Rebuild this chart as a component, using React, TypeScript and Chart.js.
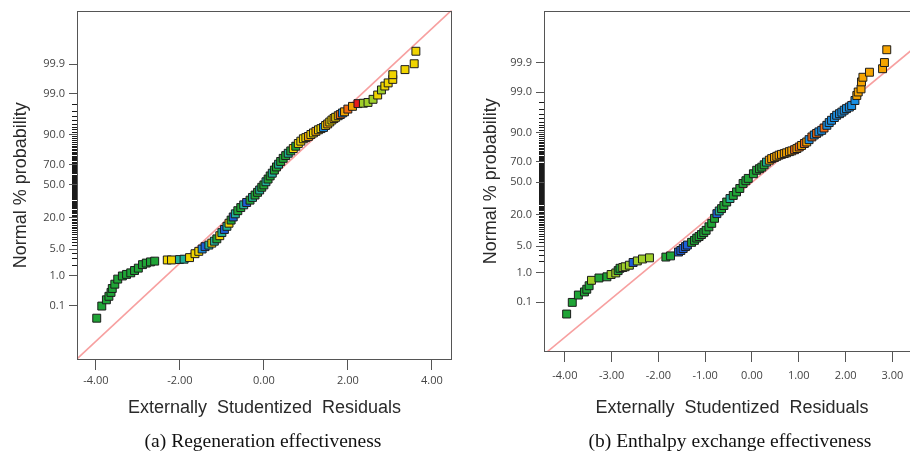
import React, { useEffect, useRef } from "react";
import { Chart, registerables } from "chart.js";

Chart.register(...registerables);

// ---------------- data ----------------
// (a) Regeneration effectiveness: externally studentized residual vs normal score
const regenResidual = [
  -3.98, -3.86, -3.75, -3.69, -3.64, -3.61, -3.55, -3.48, -3.37, -3.27, -3.17, -3.08, -2.99, -2.89, -2.8, -2.7, -2.6,
  -2.3, -2.2, -2.01, -1.9, -1.77, -1.64, -1.55, -1.47, -1.4,
  -1.31, -1.24, -1.18, -1.12, -1.05, -1.0, -0.94, -0.88, -0.83, -0.78, -0.73, -0.68, -0.62, -0.55, -0.48, -0.41, -0.33, -0.27, -0.21, -0.15, -0.1, -0.05,
  0.0, 0.05, 0.1, 0.15, 0.2, 0.25, 0.3, 0.35, 0.4,
  0.46, 0.52, 0.58, 0.64, 0.7, 0.76, 0.82, 0.88, 0.94, 1.0,
  1.06, 1.12, 1.18, 1.24, 1.3, 1.36, 1.42, 1.47, 1.52, 1.57, 1.62, 1.67, 1.71, 1.77, 1.82, 1.87, 1.92,
  2.0, 2.11, 2.24,
  2.37, 2.48, 2.6, 2.71, 2.8, 2.88, 2.96, 3.07, 3.07, 3.36, 3.58, 3.62,
];
const regenNormalScore = [
  -3.41, -3.1, -2.94, -2.85, -2.75, -2.65, -2.54, -2.41, -2.33, -2.29, -2.25, -2.19, -2.13, -2.04, -2.0, -1.97, -1.95,
  -1.92, -1.92, -1.91, -1.9, -1.86, -1.76, -1.7, -1.64, -1.58,
  -1.54, -1.49, -1.44, -1.38, -1.3, -1.22, -1.14, -1.06, -0.98, -0.9, -0.82, -0.74, -0.66, -0.58, -0.51, -0.45, -0.39, -0.32, -0.26, -0.19, -0.13, -0.06,
  0.0, 0.08, 0.15, 0.23, 0.3, 0.38, 0.46, 0.53, 0.6,
  0.68, 0.75, 0.81, 0.87, 0.93, 0.99, 1.06, 1.12, 1.18, 1.21,
  1.24, 1.29, 1.33, 1.37, 1.41, 1.44, 1.47, 1.52, 1.56, 1.61, 1.66, 1.7, 1.73, 1.77, 1.8, 1.84, 1.87,
  1.94, 2.01, 2.08,
  2.09, 2.11, 2.19, 2.3, 2.43, 2.53, 2.61, 2.7, 2.82, 2.95, 3.1, 3.42,
];
// colour-coded level of each run (1 = lowest ... 9 = highest)
const regenLevel = [
  4, 4, 4, 4, 4, 4, 4, 4, 4, 4, 4, 4, 4, 4, 4, 4, 4,
  6, 6, 3, 3, 6, 6, 6, 2, 1,
  3, 6, 3, 4, 6, 3, 1, 3, 6, 4, 1, 3, 4, 4, 3, 1, 4, 3, 4, 4, 3, 4,
  4, 3, 4, 4, 3, 4, 4, 3, 4,
  4, 4, 3, 4, 6, 4, 6, 6, 6, 6,
  7, 6, 6, 7, 6, 6, 2, 6, 7, 6, 6, 7, 6, 7, 8, 2, 7,
  8, 7, 9,
  5, 5, 5, 6, 5, 6, 6, 6, 6, 6, 6, 6,
];

// (b) Enthalpy exchange effectiveness
const enthResidual = [
  -3.96, -3.84, -3.71, -3.58, -3.53, -3.48, -3.43, -3.27, -3.1, -3.01, -2.91, -2.86, -2.82, -2.76, -2.71, -2.62, -2.54, -2.45, -2.34, -2.19,
  -1.84, -1.74, -1.57, -1.52, -1.47, -1.42, -1.38, -1.29, -1.23, -1.18, -1.13, -1.08, -1.03, -0.98, -0.92, -0.86, -0.8, -0.75, -0.7, -0.65,
  -0.6, -0.54, -0.47, -0.4, -0.33, -0.26, -0.19, -0.13, -0.08, 0.03, 0.1, 0.16, 0.21, 0.26, 0.31, 0.37, 0.42, 0.48, 0.53, 0.58,
  0.63, 0.69, 0.74, 0.8, 0.85, 0.91, 0.96, 1.01, 1.06, 1.12, 1.17, 1.22, 1.28, 1.33, 1.38, 1.43, 1.49, 1.54, 1.6, 1.65,
  1.7, 1.76, 1.81, 1.87, 1.92, 1.97, 2.02, 2.08, 2.13, 2.2, 2.24, 2.27, 2.33, 2.34, 2.37, 2.51, 2.79, 2.83, 2.88,
];
const enthNormalScore = [
  -3.4, -3.1, -2.91, -2.83, -2.76, -2.67, -2.53, -2.47, -2.44, -2.38, -2.34, -2.28, -2.22, -2.2, -2.18, -2.14, -2.07, -2.03, -1.98, -1.95,
  -1.93, -1.9, -1.8, -1.76, -1.71, -1.66, -1.62, -1.55, -1.5, -1.44, -1.4, -1.35, -1.3, -1.24, -1.15, -1.06, -0.93, -0.81, -0.74, -0.68,
  -0.6, -0.51, -0.42, -0.34, -0.25, -0.16, -0.03, 0.04, 0.1, 0.22, 0.31, 0.35, 0.39, 0.45, 0.52, 0.57, 0.61, 0.64, 0.67, 0.7,
  0.72, 0.74, 0.76, 0.79, 0.81, 0.84, 0.87, 0.91, 0.95, 1.0, 1.04, 1.1, 1.17, 1.22, 1.26, 1.3, 1.34, 1.4, 1.47, 1.54,
  1.6, 1.67, 1.73, 1.77, 1.81, 1.86, 1.9, 1.94, 1.98, 2.11, 2.24, 2.33, 2.41, 2.59, 2.71, 2.84, 2.93, 3.09, 3.42,
];
const enthLevel = [
  4, 4, 4, 4, 4, 4, 5, 4, 4, 5, 5, 4, 4, 5, 5, 5, 1, 5, 5, 5,
  4, 4, 1, 1, 1, 1, 1, 4, 4, 4, 4, 4, 4, 4, 4, 4, 4, 1, 3, 4,
  4, 4, 3, 4, 4, 4, 4, 4, 4, 4, 4, 4, 4, 4, 3, 7, 7, 7, 7, 7,
  7, 7, 7, 7, 7, 8, 7, 8, 7, 8, 7, 2, 8, 2, 8, 2, 2, 8, 2, 2,
  2, 2, 2, 2, 2, 2, 2, 2, 2, 2, 7, 7, 7, 7, 7, 7, 7, 7, 7,
];

const regenXTicks = [-4, -2, 0, 2, 4];
const enthXTicks = [-4, -3, -2, -1, 0, 1, 2, 3];
const probabilityTicks = [
  0.1, 1, 2, 3, 4, 5, 6, 7, 8, 9, 10, 11, 12, 13, 14, 15, 16, 17, 18, 19, 20, 21, 22, 23, 24, 25, 26, 27, 28, 29, 30,
  31, 32, 33, 34, 35, 36, 37, 38, 39, 40, 41, 42, 43, 44, 45, 46, 47, 48, 49, 50, 51, 52, 53, 54, 55, 56, 57, 58, 59, 60,
  61, 62, 63, 64, 65, 66, 67, 68, 69, 70, 71, 72, 73, 74, 75, 76, 77, 78, 79, 80, 81, 82, 83, 84, 85, 86, 87, 88, 89, 90,
  91, 92, 93, 94, 95, 96, 97, 98, 99, 99.9,
];
const labelledProbabilities = [0.1, 1, 5, 20, 50, 70, 90, 99, 99.9];
const captions = ["(a) Regeneration effectiveness", "(b) Enthalpy exchange effectiveness"];
const xTitle = "Externally  Studentized  Residuals";
const yTitle = "Normal % probability";

// ---------------- styles ----------------
const LEVEL_COLORS: Record<number, string> = {
  1: "#1d5fd6",
  2: "#1b8fe3",
  3: "#1fb096",
  4: "#1fa436",
  5: "#9fcf2a",
  6: "#f0d400",
  7: "#f6a400",
  8: "#f26a10",
  9: "#e81c1c",
};
const AXIS_GREY = "#555555";
const TICK_FONT = { family: "'Open Sans', 'Noto Sans', sans-serif", size: 11 };
const TITLE_FONT = { family: "'Liberation Sans', Arial, sans-serif", size: 18 };

// inverse standard normal CDF (Acklam) — maps % probability onto the normal-score axis
function probit(p: number): number {
  const a = [-39.69683028665376, 220.9460984245205, -275.9285104469687, 138.357751867269, -30.66479806614716, 2.506628277459239];
  const b = [-54.47609879822406, 161.5858368580409, -155.6989798598866, 66.80131188771972, -13.28068155288572];
  const c = [-0.007784894002430293, -0.3223964580411365, -2.400758277161838, -2.549671348660055, 4.374664141464968, 2.938163982698783];
  const d = [0.007784695709041462, 0.3224671290700398, 2.445134137142996, 3.754408661907416];
  const plow = 0.02425;
  if (p < plow) {
    const q = Math.sqrt(-2 * Math.log(p));
    return (((((c[0] * q + c[1]) * q + c[2]) * q + c[3]) * q + c[4]) * q + c[5]) / ((((d[0] * q + d[1]) * q + d[2]) * q + d[3]) * q + 1);
  }
  if (p <= 1 - plow) {
    const q = p - 0.5;
    const r = q * q;
    return ((((((a[0] * r + a[1]) * r + a[2]) * r + a[3]) * r + a[4]) * r + a[5]) * q) / (((((b[0] * r + b[1]) * r + b[2]) * r + b[3]) * r + b[4]) * r + 1);
  }
  const q = Math.sqrt(-2 * Math.log(1 - p));
  return -(((((c[0] * q + c[1]) * q + c[2]) * q + c[3]) * q + c[4]) * q + c[5]) / ((((d[0] * q + d[1]) * q + d[2]) * q + d[3]) * q + 1);
}

const isLabelled = (i: number) => labelledProbabilities.includes(probabilityTicks[i]);

const framePlugin = {
  id: "frame",
  afterDraw(chart: any) {
    const { ctx, chartArea } = chart;
    const l = Math.round(chartArea.left) + 0.5;
    const t = Math.round(chartArea.top) + 0.5;
    const r = Math.round(chartArea.right) - 0.5;
    const b = Math.round(chartArea.bottom) - 0.5;
    ctx.save();
    ctx.strokeStyle = AXIS_GREY;
    ctx.lineWidth = 1;
    ctx.strokeRect(l, t, r - l, b - t);
    ctx.restore();
  },
};

interface PanelSpec {
  residual: number[];
  score: number[];
  level: number[];
  xTicks: number[];
  xMin: number;
  xMax: number;
  yMin: number;
  yMax: number;
  padTop: number;
  padRight: number;
  padBottom: number;
  yAxisWidth: number;
  xAxisHeight: number;
  yTitlePad: number;
  xLabelPad: number;
}

function buildConfig(p: PanelSpec): any {
  const points = p.residual.map((x, i) => ({ x, y: p.score[i] }));
  return {
    type: "scatter",
    data: {
      datasets: [
        {
          data: points,
          pointStyle: "rect",
          pointRadius: 5.6,
          pointHoverRadius: 5.6,
          backgroundColor: p.level.map((l) => LEVEL_COLORS[l]),
          borderColor: "#1c1c1c",
          borderWidth: 1,
        },
        {
          data: [
            { x: -6, y: -6 },
            { x: 6, y: 6 },
          ],
          showLine: true,
          pointRadius: 0,
          borderColor: "#f7a0a0",
          borderWidth: 1.6,
        },
      ],
    },
    options: {
      responsive: false,
      animation: false,
      events: [],
      layout: { padding: { left: 0, top: p.padTop, right: p.padRight, bottom: p.padBottom } },
      plugins: { legend: { display: false }, tooltip: { enabled: false } },
      scales: {
        x: {
          type: "linear",
          min: p.xMin,
          max: p.xMax,
          afterFit: (s: any) => {
            s.height = p.xAxisHeight;
          },
          afterBuildTicks: (s: any) => {
            s.ticks = p.xTicks.map((v) => ({ value: v }));
          },
          ticks: {
            autoSkip: false,
            maxRotation: 0,
            padding: p.xLabelPad,
            font: TICK_FONT,
            color: "#444444",
            callback: (v: any) => Number(v).toFixed(2),
          },
          grid: { drawOnChartArea: false, drawTicks: true, tickLength: 10, tickColor: AXIS_GREY, tickWidth: 1 },
          border: { display: false },
          title: { display: true, text: xTitle, font: TITLE_FONT, color: "#2a2a2a", padding: { top: 0, bottom: 1 } },
        },
        y: {
          type: "linear",
          min: p.yMin,
          max: p.yMax,
          afterFit: (s: any) => {
            s.width = p.yAxisWidth;
          },
          afterBuildTicks: (s: any) => {
            s.ticks = probabilityTicks.map((pr) => ({ value: probit(pr / 100) }));
          },
          ticks: {
            autoSkip: false,
            padding: 4,
            font: TICK_FONT,
            color: "#444444",
            callback: (_v: any, i: number) => (isLabelled(i) ? probabilityTicks[i].toFixed(1) : ""),
          },
          grid: {
            drawOnChartArea: false,
            drawTicks: true,
            tickLength: 8,
            tickWidth: 1,
            tickColor: (ctx: any) => (isLabelled(ctx.index) ? AXIS_GREY : "#1a1a1a"),
            tickBorderDash: (ctx: any) => (isLabelled(ctx.index) ? [] : [0, 3, 6, 0]),
          },
          border: { display: false },
          title: { display: true, text: yTitle, font: TITLE_FONT, color: "#2a2a2a", padding: { top: p.yTitlePad, bottom: 0 } },
        },
      },
    },
    plugins: [framePlugin],
  };
}

const regenSpec: PanelSpec = {
  residual: regenResidual,
  score: regenNormalScore,
  level: regenLevel,
  xTicks: regenXTicks,
  xMin: -4.45,
  xMax: 4.48,
  yMin: -4.48,
  yMax: 4.46,
  padTop: 7,
  padRight: 8,
  padBottom: 44,
  yAxisWidth: 77,
  xAxisHeight: 60,
  yTitlePad: 10,
  xLabelPad: 4,
};

const enthSpec: PanelSpec = {
  residual: enthResidual,
  score: enthNormalScore,
  level: enthLevel,
  xTicks: enthXTicks,
  xMin: -4.444,
  xMax: 3.59,
  yMin: -4.38,
  yMax: 4.43,
  padTop: 10,
  padRight: 10,
  padBottom: 44,
  yAxisWidth: 84,
  xAxisHeight: 68,
  yTitlePad: 20,
  xLabelPad: 7,
};

function Panel({ spec, left, width }: { spec: PanelSpec; left: number; width: number }) {
  const ref = useRef<HTMLCanvasElement>(null);
  useEffect(() => {
    if (!ref.current) return;
    const chart = new Chart(ref.current, buildConfig(spec));
    return () => chart.destroy();
  }, [spec]);
  return (
    <canvas
      ref={ref}
      width={width}
      height={464}
      style={{ position: "absolute", left, top: 0, width, height: 464 }}
    />
  );
}

const captionStyle: React.CSSProperties = {
  position: "absolute",
  top: 430,
  width: 420,
  textAlign: "center",
  fontFamily: "'Liberation Serif', 'Times New Roman', serif",
  fontSize: 19.5,
  lineHeight: "22px",
  color: "#111",
  whiteSpace: "nowrap",
};

export default function App() {
  return (
    <div
      style={{
        position: "absolute",
        left: 0,
        top: 0,
        width: 910,
        height: 464,
        overflow: "hidden",
        background: "#ffffff",
      }}
    >
      <Panel spec={regenSpec} left={0} width={460} />
      <Panel spec={enthSpec} left={460} width={470} />
      <div style={{ ...captionStyle, left: 263 - 210 }}>{captions[0]}</div>
      <div style={{ ...captionStyle, left: 730 - 210 }}>{captions[1]}</div>
    </div>
  );
}
